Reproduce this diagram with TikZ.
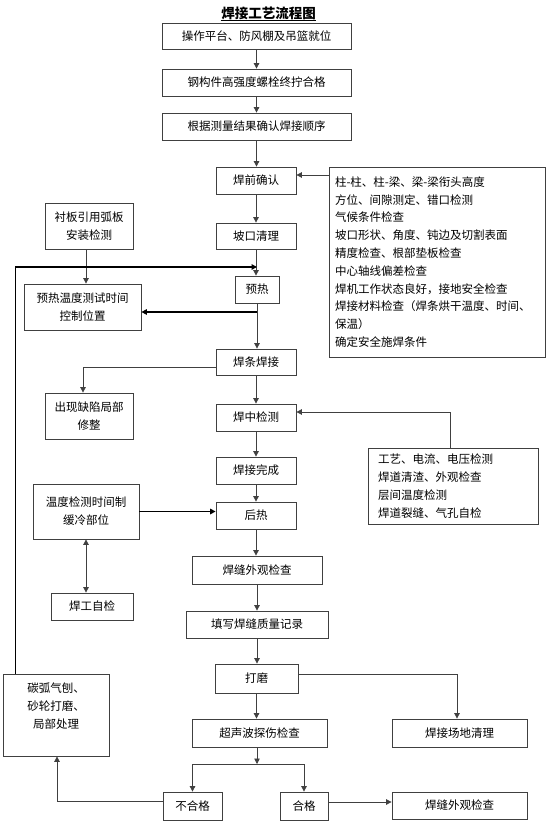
\documentclass[tikz,border=0pt]{standalone}
\usepackage{fontspec}
\setmainfont{Noto Sans CJK SC}
\usetikzlibrary{arrows.meta}

\newcommand{\boxh}{27}

\begin{document}
\begin{tikzpicture}[x=1pt, y=-1pt, >={Triangle[length=5.5pt,width=5.5pt]},
  line/.style={draw=black!75, line width=0.8pt},
  arr/.style={line, ->},
  thickarr/.style={arr, draw=black, line width=1.6pt},
  box/.style={line, inner sep=0pt, minimum height=\boxh, align=center,
    font=\fontsize{11.5}{18}\selectfont}]
\useasboundingbox (0,0) rectangle (553,824);

% draw title
\node[inner sep=0.5pt, font=\fontsize{13.5}{16}\selectfont\bfseries] (title) at (268.5,13.5) {焊接工艺流程图};
\draw[line width=0.8pt] (title.south west) -- (title.south east);

% draw main boxes
\node[box, minimum width=189, minimum height=26] (op) at (256.5,36) {操作平台、防风棚及吊篮就位};
\node[box, minimum width=189] (bolt) at (256.5,82.5) {钢构件高强度螺栓终拧合格};
\node[box, minimum width=189] (order) at (256.5,126.5) {根据测量结果确认焊接顺序};
\node[box, minimum width=80] (pre) at (256,180.5) {焊前确认};
\node[box, minimum width=80, minimum height=26] (groove) at (256,236) {坡口清理};
\node[box, minimum width=44] (preheat) at (257,289.5) {预热};
\node[box, minimum width=80, minimum height=26] (weld) at (256,362) {焊条焊接};
\node[box, minimum width=80] (mid) at (256,417.5) {焊中检测};
\node[box, minimum width=80] (done) at (256,470.5) {焊接完成};
\node[box, minimum width=80] (post) at (256,515.5) {后热};
\node[box, minimum width=130, minimum height=28] (look) at (257,570) {焊缝外观检查};
\node[box, minimum width=142] (record) at (257,624.5) {填写焊缝质量记录};
\node[box, minimum width=83, minimum height=29] (grind) at (256.5,678.5) {打磨};
\node[box, minimum width=135, minimum height=28] (ut) at (259.5,733) {超声波探伤检查};
\node[box, minimum width=135, minimum height=28] (clean) at (459.5,733) {焊接场地清理};
\node[box, minimum width=59, minimum height=28] (fail) at (192.5,806) {不合格};
\node[box, minimum width=48, minimum height=28] (pass) at (304,806) {合格};
\node[box, minimum width=135] (final) at (459.5,805.5) {焊缝外观检查};

% draw side boxes
\node[box, minimum width=88, minimum height=46] (liner) at (89,226) {衬板引用弧板\\安装检测};
\node[box, minimum width=117, minimum height=46] (ptemp) at (82.5,307) {预热温度测试时间\\控制位置};
\node[box, minimum width=88, minimum height=46] (defect) at (89,416) {出现缺陷局部\\修整};
\node[box, minimum width=106, minimum height=55] (cool) at (86,511.5) {温度检测时间制\\缓冷部位};
\node[box, minimum width=82] (self) at (92,606.5) {焊工自检};
\node[box, minimum width=106, minimum height=82] (carbon) at (56,715) {碳弧气刨、\\砂轮打磨、\\局部处理\\~};
\node[box, align=left, text width=204, inner xsep=6, minimum height=190,
  font=\fontsize{11.5}{17.8}\selectfont] (list) at (437,262) {%
柱-柱、柱-梁、梁-梁衔头高度\\
方位、间隙测定、错口检测\\
气候条件检查\\
坡口形状、角度、钝边及切割表面\\
精度检查、根部垫板检查\\
中心轴线偏差检查\\
焊机工作状态良好，接地安全检查\\
焊接材料检查（焊条烘干温度、时间、\\
保温）\\
确定安全施焊条件};
\node[box, align=left, text width=150, inner xsep=10, minimum height=76] (proc) at (453,486) {%
工艺、电流、电压检测\\
焊道清渣、外观检查\\
层间温度检测\\
焊道裂缝、气孔自检};

% draw main flow
\foreach \a/\b in {op/bolt, bolt/order, order/pre, pre/groove, groove/preheat, preheat/weld,
  weld/mid, mid/done, done/post, post/look, look/record, record/grind, grind/ut}
  \draw[arr] (\a.south) -- (\a.south |- \b.north);

% draw checks and branches
\draw[arr] ([yshift=5.5]pre.east -| list.west) -- ([yshift=5.5]pre.east);
\draw[arr] ([xshift=-3]liner.south) -- ([xshift=-3]liner.south |- ptemp.north);
\coordinate (ph) at (257,312);
\draw[thickarr] (ph) -- (ph -| ptemp.east);
\coordinate (back) at (15,267);
\draw[line, draw=black] (carbon.north -| back) -- (back);
\draw[thickarr] (back) -- (back -| preheat.north);
\draw[arr] ([yshift=-5]weld.west) -| ([xshift=-6]defect.north);
\draw[arr] ([xshift=-3]proc.north) |- ([yshift=5.5]mid.east);
\draw[thickarr] (cool.east) -- (cool.east -| post.west);
\draw[arr, <->] (cool.south) -- (cool.south |- self.north);
\draw[arr] ([yshift=4.5]grind.east) -| ([xshift=-2.5]clean.north);

% draw test result
\coordinate (split) at (257,764);
\draw[arr] (ut.south -| split) -- (split);
\draw[line] (split -| fail.north) -- (split -| pass.north);
\draw[arr] (split -| fail.north) -- (fail.north);
\draw[arr] (split -| pass.north) -- (pass.north);
\draw[arr] ([yshift=4]pass.east) -- ([yshift=4]pass.east -| final.west);
\draw[arr] ([yshift=5]fail.west) -| ([xshift=1]carbon.south);

\end{tikzpicture}
\end{document}
